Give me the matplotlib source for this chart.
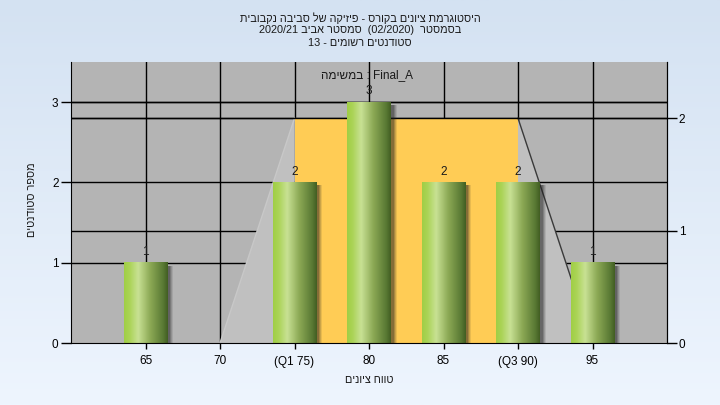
import numpy as np
import matplotlib
matplotlib.use("Agg")
import matplotlib.pyplot as plt
import matplotlib.transforms as mtransforms
from matplotlib.patches import Polygon, Rectangle
from matplotlib.colors import LinearSegmentedColormap

# ---------------- data ----------------
categories = ["65", "70", "(Q1 75)", "80", "85", "(Q3 90)", "95"]
counts = [1, 0, 2, 3, 2, 2, 1]
# box-shape overlay (positions are category indices, height on right axis)
whisker_low = 1      # "70"
q1_pos = 2           # "(Q1 75)"
q3_pos = 5           # "(Q3 90)"
whisker_high = 6     # "95"
box_height = 2       # right axis units
left_ticks = [0, 1, 2, 3]
right_ticks = [0, 1, 2]
left_max = 3.5
right_max = 2.5

# Hebrew strings are written in visual (left-to-right display) order,
# because matplotlib does not apply the bidi algorithm.
title_lines = ["תיבובקנ הביבס לש הקיזיפ - סרוקב םינויצ תמרגוטסיה",
               "2020/21 ביבא רטסמס  (02/2020)  רטסמסב",
               "13 - םימושר םיטנדוטס"]
legend_text = "המישמב : Final_A"
xlabel = "םינויצ חווט"
ylabel = "םיטנדוטס רפסמ"

FAM = ["Liberation Sans", "DejaVu Sans"]
plt.rcParams['font.family'] = FAM
FS = 8.5
TFS = 7.8

fig = plt.figure(figsize=(7.2, 4.05), dpi=100)

# figure background gradient
bg = fig.add_axes([0, 0, 1, 1], zorder=-10)
top_c = np.array([0xD4, 0xE2, 0xF2]) / 255
bot_c = np.array([0xEE, 0xF5, 0xFE]) / 255
t = np.linspace(0, 1, 256)[:, None]
grad = top_c[None, None, :] * (1 - t[..., None]) + bot_c[None, None, :] * t[..., None]
bg.imshow(grad, aspect='auto', extent=[0, 1, 0, 1])
bg.set_axis_off()

ax = fig.add_axes([71/720, 1 - 343/405, 596/720, 281/405])
ax.set_facecolor("#B4B4B4")
n = len(categories)
x = np.arange(n)
ax.set_xlim(-1, n)
ax.set_ylim(0, left_max)
scale = left_max / right_max

# gridlines
for xv in x:
    ax.axvline(xv, color="black", lw=1, zorder=1)
for yv in left_ticks[1:]:
    ax.axhline(yv, color="black", lw=1, zorder=1)
for yv in right_ticks[1:]:
    ax.axhline(yv * scale, color="black", lw=1, zorder=1)

# trapezoid overlay
h = box_height * scale
ax.add_patch(Polygon([[whisker_low, 0], [q1_pos, h], [q1_pos, 0]], closed=True,
                     facecolor="#C0C0C0", edgecolor="none", zorder=2))
ax.add_patch(Polygon([[q3_pos, 0], [q3_pos, h], [whisker_high, 0]], closed=True,
                     facecolor="#C0C0C0", edgecolor="none", zorder=2))
ax.add_patch(Rectangle((q1_pos, 0), q3_pos - q1_pos, h, facecolor="#FFCC55",
                       edgecolor="none", zorder=2))
ax.plot([whisker_low, q1_pos], [0, h], color="#C8C8C8", lw=1, zorder=2.5)
ax.plot([q3_pos, whisker_high], [h, 0], color="#3A3A3A", lw=1, zorder=2.5)
ax.axhline(h, xmin=0, xmax=1, color="black", lw=1, zorder=2.6)
ax.axhline(3, color="black", lw=1, zorder=2.6)

# bars with gradient + shadow
cmap = LinearSegmentedColormap.from_list("g", [
    (0.0, "#A0CE45"), (0.12, "#AAD355"), (0.32, "#C8E194"),
    (0.6, "#8CA955"), (0.9, "#587833"), (1.0, "#425E22")])
gimg = np.linspace(0, 1, 128)[None, :]
bw = 0.59
for xi, c in zip(x, counts):
    if c <= 0:
        continue
    x0 = xi - bw / 2
    for dx, a in [(6, 0.10), (5, 0.15), (4, 0.20), (3, 0.25)]:
        off = mtransforms.offset_copy(ax.transData, fig=fig, x=dx, y=-3, units='dots')
        ax.add_patch(Rectangle((x0, 0), bw, c, transform=off, facecolor="#202020",
                               alpha=a, edgecolor="none", zorder=3, clip_on=True))
    ax.imshow(gimg, cmap=cmap, aspect='auto', extent=[x0, x0 + bw, 0, c],
              zorder=4, interpolation='bilinear')
    ax.annotate(str(c), (xi, c), xytext=(0, 3.5), textcoords='offset points',
                ha='center', va='bottom', fontsize=FS, color="#1A1A1A", zorder=5)
ax.set_xlim(-1, n)
ax.set_ylim(0, left_max)

ax.text((367 - 71) / 596, (343 - 75) / 281, legend_text, transform=ax.transAxes,
        ha='center', va='center', fontsize=FS, color="#1A1A1A", zorder=6)

# axes styling
ax.set_xticks(x)
ax.set_xticklabels(categories)
ax.set_yticks(left_ticks)
ax.tick_params(axis='x', length=4, width=1, pad=5, labelsize=FS, colors="black")
ax.tick_params(axis='y', length=7, width=1, pad=2, labelsize=FS, colors="black")
ax.spines["top"].set_visible(False)
for s in ["left", "bottom", "right"]:
    ax.spines[s].set_color("black")
    ax.spines[s].set_zorder(7)

ax2 = ax.twinx()
ax2.set_ylim(0, right_max)
ax2.set_yticks(right_ticks)
ax2.tick_params(axis='y', length=7, width=1, pad=1.5, labelsize=FS, colors="black")
ax2.patch.set_visible(False)
for s in ["top", "left", "bottom"]:
    ax2.spines[s].set_visible(False)
ax2.spines["right"].set_color("black")

# titles & labels
for yy, line in zip([18, 30, 43], title_lines):
    fig.text(360 / 720, 1 - yy / 405, line, ha='center', va='center',
             fontsize=TFS, color="#1A1A1A")
fig.text(369 / 720, 1 - 380 / 405, xlabel, ha='center', va='center',
         fontsize=TFS, color="#1A1A1A")
fig.text(32 / 720, 1 - 200 / 405, ylabel, ha='center', va='center',
         rotation=90, fontsize=TFS, color="#1A1A1A")

fig.savefig("out.png", dpi=100)
